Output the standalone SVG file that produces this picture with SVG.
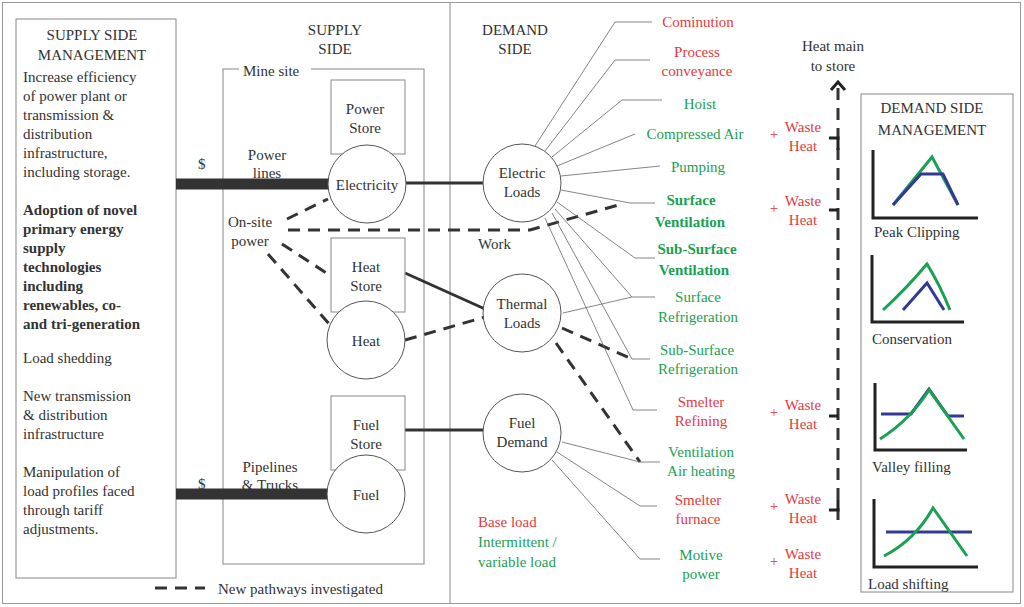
<svg xmlns="http://www.w3.org/2000/svg" width="1024" height="607" viewBox="0 0 1024 607" font-family="'Liberation Serif','DejaVu Serif',serif">
<style>
text{font-family:'Liberation Serif','Tinos','DejaVu Serif',serif;font-size:15px;fill:#333}
.c{text-anchor:middle}
.r{fill:#e8383d}
.g{fill:#1aa152}
.b{font-weight:bold}
.box{fill:#fff;stroke:#888;stroke-width:1}
.node{fill:#fff;stroke:#555;stroke-width:1}
.thin{fill:none;stroke:#666;stroke-width:0.8}
.solid{fill:none;stroke:#333;stroke-width:3}
.bar{fill:none;stroke:#333;stroke-width:11}
.dash{fill:none;stroke:#333;stroke-width:3;stroke-dasharray:12,8}
.ax{fill:none;stroke:#222;stroke-width:3}
.gr{fill:none;stroke:#1aa152;stroke-width:3}
.bl{fill:none;stroke:#333a96;stroke-width:3}
</style>
<rect x="0" y="0" width="1024" height="607" fill="#fff"/>
<rect x="2.5" y="2.5" width="1018" height="601" fill="none" stroke="#999"/>
<line x1="450" y1="3" x2="450" y2="603" stroke="#888"/>

<g id="ssm">
<rect class="box" x="16" y="19" width="160" height="559"/>
<text class="c" x="92" y="40">SUPPLY SIDE</text>
<text class="c" x="92" y="60">MANAGEMENT</text>
<text x="23" y="82">Increase efficiency</text>
<text x="23" y="101">of power plant or</text>
<text x="23" y="120">transmission &amp;</text>
<text x="23" y="139">distribution</text>
<text x="23" y="158">infrastructure,</text>
<text x="23" y="177">including storage.</text>
<text class="b" x="23" y="215">Adoption of novel</text>
<text class="b" x="23" y="234">primary energy</text>
<text class="b" x="23" y="253">supply</text>
<text class="b" x="23" y="272">technologies</text>
<text class="b" x="23" y="291">including</text>
<text class="b" x="23" y="310">renewables, co-</text>
<text class="b" x="23" y="329">and tri-generation</text>
<text x="23" y="363">Load shedding</text>
<text x="23" y="401">New transmission</text>
<text x="23" y="420">&amp; distribution</text>
<text x="23" y="439">infrastructure</text>
<text x="23" y="477">Manipulation of</text>
<text x="23" y="496">load profiles faced</text>
<text x="23" y="515">through tariff</text>
<text x="23" y="534">adjustments.</text>
</g>

<g id="mine">
<rect class="box" x="223" y="69" width="201" height="495"/>
<rect x="239" y="62" width="72" height="18" fill="#fff"/>
<text x="243" y="76">Mine site</text>
<text class="c" x="335" y="35">SUPPLY</text>
<text class="c" x="335" y="54">SIDE</text>
<text class="c" x="515" y="35">DEMAND</text>
<text class="c" x="515" y="54">SIDE</text>
</g>

<g id="connectors">
<line class="bar" x1="176" y1="184" x2="330" y2="184"/>
<line class="bar" x1="176" y1="494" x2="330" y2="494"/>
<line class="solid" x1="406" y1="183" x2="483" y2="183"/>
<line class="solid" x1="405" y1="273" x2="485" y2="309"/>
<line class="solid" x1="405" y1="430" x2="483" y2="430"/>
<line class="dash" x1="287" y1="219" x2="328" y2="199"/>
<polyline class="dash" points="288,230 530,230 622,204"/>
<line class="dash" x1="282" y1="244" x2="331" y2="276"/>
<line class="dash" x1="268" y1="254" x2="330" y2="325"/>
<line class="dash" x1="405" y1="340" x2="485" y2="317"/>
<line class="dash" x1="562" y1="328" x2="632" y2="359"/>
<line class="dash" x1="556" y1="343" x2="640" y2="462"/>
<polyline class="thin" points="535,146 615,22 652,22"/>
<polyline class="thin" points="545,151 615,60 650,60"/>
<polyline class="thin" points="552,157 622,100 662,100"/>
<polyline class="thin" points="557,166 635,134"/>
<polyline class="thin" points="561,176 660,166"/>
<polyline class="thin" points="561,190 630,203 655,203"/>
<polyline class="thin" points="557,202 635,258 655,258"/>
<polyline class="thin" points="555,209 632,297 655,297"/>
<polyline class="thin" points="552,213 632,359 650,359"/>
<polyline class="thin" points="545,218 633,410 657,410"/>
<polyline class="thin" points="563,313 632,297"/>
<polyline class="thin" points="562,442 640,462 660,462"/>
<polyline class="thin" points="557,452 640,506 657,506"/>
<polyline class="thin" points="552,460 640,559 660,559"/>
<polyline class="dash" points="838,520 838,88" stroke-dasharray="14,10"/>
<polyline points="831,90 838,82 845,90" fill="none" stroke="#222" stroke-width="3"/>
<polyline points="829,138 838,138 838,150" fill="none" stroke="#222" stroke-width="3"/>
<polyline points="829,210 838,210" fill="none" stroke="#222" stroke-width="3"/>
<polyline points="829,416 838,416" fill="none" stroke="#222" stroke-width="3"/>
<polyline points="829,510 838,510 838,500" fill="none" stroke="#222" stroke-width="3"/>
</g>

<g id="powerstore"><rect class="box" x="331" y="80" width="74" height="74"/><text class="c" x="365" y="114">Power</text><text class="c" x="365" y="133">Store</text></g>
<g id="electricity"><circle class="node" cx="367" cy="184" r="39"/><text class="c" x="367" y="190">Electricity</text></g>
<g id="heatstore"><rect class="box" x="331" y="238" width="74" height="74"/><text class="c" x="366" y="272">Heat</text><text class="c" x="366" y="291">Store</text></g>
<g id="heat"><circle class="node" cx="366" cy="340" r="39"/><text class="c" x="366" y="346">Heat</text></g>
<g id="fuelstore"><rect class="box" x="331" y="396" width="74" height="74"/><text class="c" x="366" y="430">Fuel</text><text class="c" x="366" y="449">Store</text></g>
<g id="fuel"><circle class="node" cx="366" cy="494" r="39"/><text class="c" x="366" y="500">Fuel</text></g>
<g id="labels-supply">
<text x="198" y="169">$</text><text x="198" y="489">$</text>
<text class="c" x="267" y="160">Power</text><text class="c" x="267" y="178">lines</text>
<text class="c" x="270" y="472">Pipelines</text><text class="c" x="270" y="490">&amp; Trucks</text>
<text class="c" x="250" y="227">On-site</text><text class="c" x="250" y="246">power</text>
<text x="478" y="249">Work</text>
</g>
<g id="electricloads"><circle class="node" cx="522" cy="183" r="39"/><text class="c" x="522" y="178">Electric</text><text class="c" x="522" y="197">Loads</text></g>
<g id="thermalloads"><circle class="node" cx="522" cy="313" r="39"/><text class="c" x="522" y="309">Thermal</text><text class="c" x="522" y="328">Loads</text></g>
<g id="fueldemand"><circle class="node" cx="522" cy="433" r="39"/><text class="c" x="522" y="428">Fuel</text><text class="c" x="522" y="447">Demand</text></g>

<g id="enduses">
<text class="c r" x="698" y="27">Cominution</text>
<text class="c r" x="697" y="57">Process</text><text class="c r" x="697" y="76">conveyance</text>
<text class="c g" x="700" y="109">Hoist</text>
<text class="c g" x="695" y="139">Compressed Air</text>
<text class="c g" x="698" y="172">Pumping</text>
<text class="c g b" x="691" y="205">Surface</text><text class="c g b" x="690" y="227">Ventilation</text>
<text class="c g b" x="697" y="254">Sub-Surface</text><text class="c g b" x="694" y="275">Ventilation</text>
<text class="c g" x="698" y="302">Surface</text><text class="c g" x="698" y="322">Refrigeration</text>
<text class="c g" x="697" y="355">Sub-Surface</text><text class="c g" x="698" y="374">Refrigeration</text>
<text class="c r" x="701" y="407">Smelter</text><text class="c r" x="701" y="426">Refining</text>
<text class="c g" x="701" y="457">Ventilation</text><text class="c g" x="701" y="476">Air heating</text>
<text class="c r" x="698" y="505">Smelter</text><text class="c r" x="698" y="524">furnace</text>
<text class="c g" x="701" y="560">Motive</text><text class="c g" x="701" y="579">power</text>
</g>
<g id="waste">
<text class="c r" x="774" y="139">+</text><text class="c r" x="803" y="132">Waste</text><text class="c r" x="803" y="151">Heat</text>
<text class="c r" x="774" y="213">+</text><text class="c r" x="803" y="206">Waste</text><text class="c r" x="803" y="225">Heat</text>
<text class="c r" x="774" y="417">+</text><text class="c r" x="803" y="410">Waste</text><text class="c r" x="803" y="429">Heat</text>
<text class="c r" x="774" y="511">+</text><text class="c r" x="803" y="504">Waste</text><text class="c r" x="803" y="523">Heat</text>
<text class="c r" x="774" y="566">+</text><text class="c r" x="803" y="559">Waste</text><text class="c r" x="803" y="578">Heat</text>
<text class="c" x="833" y="51">Heat main</text><text class="c" x="833" y="71">to store</text>
</g>
<g id="legend">
<text class="r" x="478" y="527">Base load</text>
<text class="g" x="478" y="547">Intermittent /</text>
<text class="g" x="478" y="567">variable load</text>
<line class="dash" x1="155" y1="588" x2="205" y2="588"/>
<text x="218" y="594">New pathways investigated</text>
</g>
<g id="dsm">
<rect class="box" x="861" y="94" width="152" height="498"/>
<text class="c" x="932" y="113">DEMAND SIDE</text>
<text class="c" x="932" y="135">MANAGEMENT</text>
<polyline class="ax" points="873,150 873,218 978,218"/>
<polyline class="gr" points="893,205 932,157 958,205"/>
<polyline class="bl" points="893,205 921,174 943,174 958,205"/>
<text x="874" y="237">Peak Clipping</text>
<polyline class="ax" points="872,255 872,322 964,322"/>
<path class="gr" d="M883,310 Q905,290 927,264 Q940,285 950,310"/>
<polyline class="bl" points="903,310 927,283 944,310"/>
<text x="872" y="344">Conservation</text>
<polyline class="ax" points="875,383 875,450 967,450"/>
<polyline class="bl" points="881,414 911,414 929,389 948,416 964,416"/>
<path class="gr" d="M880,439 Q910,420 929,390 L964,439"/>
<text x="872" y="472">Valley filling</text>
<polyline class="ax" points="874,499 874,567 978,567"/>
<line class="bl" x1="886" y1="532" x2="972" y2="532"/>
<path class="gr" d="M884,556 Q915,540 933,508 L967,556"/>
<text x="868" y="589">Load shifting</text>
</g>
</svg>
